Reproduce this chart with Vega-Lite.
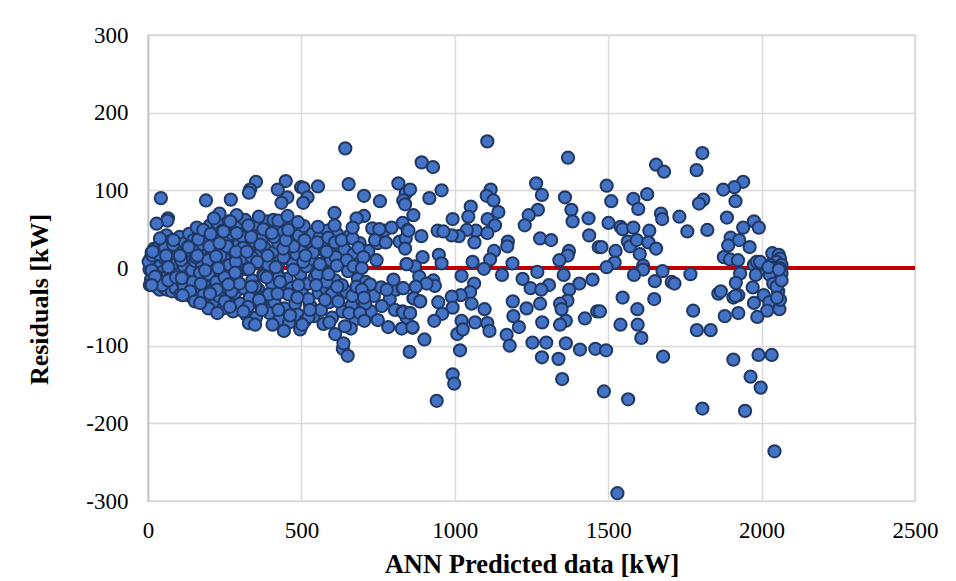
{"$schema":"https://vega.github.io/schema/vega-lite/v6.json","width":767,"height":466,"autosize":"none","padding":{"left":148,"top":35,"right":41,"bottom":80},"background":"white","view":{"stroke":"#d9d9d9","strokeWidth":1.5},
"datasets":{"zero":[{"x":0,"y":0},{"x":2500,"y":0}],
"pts":[{"x":5,"y":-2},{"x":8,"y":12},{"x":10,"y":-15},{"x":12,"y":20},{"x":15,"y":5},{"x":18,"y":-20},{"x":20,"y":25},{"x":22,"y":-8},{"x":25,"y":14},{"x":28,"y":-24},{"x":30,"y":8},{"x":32,"y":-13},{"x":35,"y":27},{"x":38,"y":-28},{"x":40,"y":3},{"x":42,"y":-18},{"x":45,"y":22},{"x":48,"y":-5},{"x":50,"y":32},{"x":52,"y":-25},{"x":55,"y":12},{"x":58,"y":-12},{"x":60,"y":42},{"x":62,"y":-28},{"x":65,"y":5},{"x":68,"y":24},{"x":70,"y":-20},{"x":72,"y":-3},{"x":75,"y":35},{"x":78,"y":-30},{"x":80,"y":12},{"x":84,"y":-14},{"x":88,"y":28},{"x":90,"y":-26},{"x":94,"y":6},{"x":97,"y":18},{"x":100,"y":-8},{"x":103,"y":40},{"x":106,"y":-34},{"x":110,"y":24},{"x":112,"y":-19},{"x":116,"y":3},{"x":120,"y":32},{"x":123,"y":-28},{"x":127,"y":14},{"x":130,"y":-10},{"x":134,"y":44},{"x":137,"y":-36},{"x":140,"y":22},{"x":144,"y":-3},{"x":148,"y":36},{"x":150,"y":-24},{"x":154,"y":9},{"x":158,"y":-40},{"x":160,"y":26},{"x":164,"y":-14},{"x":168,"y":45},{"x":172,"y":-32},{"x":176,"y":5},{"x":180,"y":30},{"x":183,"y":-22},{"x":187,"y":16},{"x":190,"y":-44},{"x":194,"y":38},{"x":198,"y":-8},{"x":202,"y":55},{"x":205,"y":-30},{"x":208,"y":20},{"x":212,"y":-48},{"x":215,"y":8},{"x":220,"y":42},{"x":223,"y":-18},{"x":226,"y":58},{"x":230,"y":-36},{"x":234,"y":26},{"x":238,"y":-4},{"x":242,"y":48},{"x":245,"y":-52},{"x":248,"y":13},{"x":252,"y":-24},{"x":256,"y":34},{"x":260,"y":-42},{"x":263,"y":60},{"x":266,"y":4},{"x":270,"y":-14},{"x":274,"y":44},{"x":277,"y":-56},{"x":280,"y":22},{"x":284,"y":-32},{"x":288,"y":52},{"x":292,"y":-6},{"x":296,"y":30},{"x":300,"y":-46},{"x":304,"y":12},{"x":308,"y":40},{"x":312,"y":-26},{"x":316,"y":62},{"x":320,"y":-60},{"x":324,"y":-2},{"x":328,"y":24},{"x":332,"y":-38},{"x":336,"y":48},{"x":340,"y":-16},{"x":344,"y":8},{"x":348,"y":34},{"x":352,"y":-64},{"x":356,"y":56},{"x":360,"y":-28},{"x":364,"y":18},{"x":368,"y":-48},{"x":372,"y":38},{"x":376,"y":-8},{"x":380,"y":26},{"x":384,"y":-36},{"x":388,"y":60},{"x":392,"y":4},{"x":396,"y":-58},{"x":400,"y":44},{"x":404,"y":-20},{"x":408,"y":20},{"x":412,"y":-44},{"x":416,"y":54},{"x":420,"y":-4},{"x":424,"y":32},{"x":428,"y":-66},{"x":432,"y":10},{"x":436,"y":-30},{"x":440,"y":46},{"x":444,"y":-52},{"x":448,"y":24},{"x":452,"y":-14},{"x":456,"y":58},{"x":460,"y":-70},{"x":464,"y":36},{"x":468,"y":-26},{"x":472,"y":6},{"x":476,"y":48},{"x":480,"y":-46},{"x":484,"y":18},{"x":488,"y":-60},{"x":492,"y":42},{"x":496,"y":-8},{"x":500,"y":28},{"x":504,"y":-34},{"x":508,"y":54},{"x":512,"y":-68},{"x":516,"y":2},{"x":520,"y":34},{"x":524,"y":-20},{"x":528,"y":-48},{"x":532,"y":12},{"x":536,"y":44},{"x":540,"y":-62},{"x":544,"y":-12},{"x":548,"y":24},{"x":556,"y":-32},{"x":560,"y":40},{"x":564,"y":-54},{"x":568,"y":6},{"x":572,"y":-72},{"x":576,"y":22},{"x":580,"y":-26},{"x":584,"y":48},{"x":590,"y":-44},{"x":596,"y":10},{"x":600,"y":-64},{"x":604,"y":30},{"x":610,"y":-16},{"x":616,"y":44},{"x":622,"y":-38},{"x":628,"y":6},{"x":634,"y":-56},{"x":640,"y":24},{"x":646,"y":-30},{"x":652,"y":-4},{"x":658,"y":42},{"x":664,"y":-48},{"x":670,"y":18},{"x":676,"y":-66},{"x":684,"y":-14},{"x":690,"y":32},{"x":698,"y":-42},{"x":710,"y":-18},{"x":718,"y":22},{"x":726,"y":-56},{"x":736,"y":-36},{"x":748,"y":32},{"x":760,"y":-25},{"x":770,"y":48},{"x":788,"y":-40},{"x":808,"y":-28},{"x":820,"y":34},{"x":2,"y":8},{"x":6,"y":-22},{"x":14,"y":16},{"x":26,"y":-10},{"x":34,"y":18},{"x":46,"y":-22},{"x":56,"y":26},{"x":66,"y":-16},{"x":82,"y":30},{"x":92,"y":-12},{"x":108,"y":10},{"x":118,"y":-24},{"x":132,"y":28},{"x":146,"y":-18},{"x":156,"y":14},{"x":170,"y":-6},{"x":182,"y":-34},{"x":196,"y":10},{"x":210,"y":32},{"x":224,"y":-28},{"x":236,"y":16},{"x":250,"y":-12},{"x":258,"y":28},{"x":272,"y":-30},{"x":286,"y":8},{"x":298,"y":-20},{"x":310,"y":26},{"x":326,"y":-50},{"x":338,"y":14},{"x":350,"y":-24},{"x":366,"y":30},{"x":378,"y":-10},{"x":394,"y":-34},{"x":410,"y":40},{"x":426,"y":-12},{"x":442,"y":14},{"x":458,"y":-34},{"x":474,"y":28},{"x":490,"y":-22},{"x":506,"y":8},{"x":522,"y":-40},{"x":538,"y":20},{"x":552,"y":-8},{"x":566,"y":32},{"x":582,"y":-18},{"x":598,"y":-34},{"x":612,"y":14},{"x":632,"y":-22},{"x":648,"y":10},{"x":666,"y":-36},{"x":688,"y":6},{"x":708,"y":-46},{"x":39,"y":38},{"x":83,"y":36},{"x":132,"y":27},{"x":164,"y":37},{"x":200,"y":28},{"x":233,"y":32},{"x":287,"y":21},{"x":322,"y":21},{"x":336,"y":40},{"x":441,"y":25},{"x":449,"y":36},{"x":510,"y":36},{"x":552,"y":33},{"x":588,"y":39},{"x":610,"y":33},{"x":631,"y":36},{"x":667,"y":38},{"x":686,"y":26},{"x":582,"y":21},{"x":15,"y":21},{"x":59,"y":16},{"x":104,"y":16},{"x":161,"y":16},{"x":222,"y":15},{"x":390,"y":16},{"x":513,"y":16},{"x":702,"y":14},{"x":745,"y":10},{"x":843,"y":5},{"x":356,"y":8},{"x":560,"y":5},{"x":615,"y":3},{"x":670,"y":2},{"x":697,"y":0},{"x":416,"y":1},{"x":474,"y":-2},{"x":229,"y":0},{"x":186,"y":-3},{"x":329,"y":-1},{"x":12,"y":-3},{"x":66,"y":1},{"x":23,"y":-11},{"x":110,"y":-13},{"x":284,"y":-6},{"x":387,"y":-12},{"x":588,"y":-8},{"x":800,"y":-15},{"x":778,"y":-28},{"x":724,"y":-21},{"x":262,"y":-21},{"x":172,"y":-20},{"x":430,"y":-18},{"x":617,"y":-24},{"x":548,"y":-22},{"x":680,"y":-24},{"x":697,"y":-28},{"x":830,"y":-26},{"x":12,"y":-22},{"x":137,"y":-30},{"x":338,"y":-24},{"x":422,"y":-33},{"x":487,"y":-38},{"x":202,"y":-33},{"x":113,"y":-35},{"x":251,"y":-43},{"x":362,"y":-41},{"x":577,"y":-41},{"x":620,"y":-43},{"x":704,"y":-38},{"x":865,"y":-39},{"x":887,"y":-43},{"x":425,"y":-54},{"x":267,"y":-50},{"x":197,"y":-52},{"x":153,"y":-43},{"x":170,"y":-45},{"x":226,"y":-58},{"x":311,"y":-56},{"x":371,"y":-54},{"x":463,"y":-61},{"x":523,"y":-63},{"x":528,"y":-54},{"x":655,"y":-58},{"x":691,"y":-58},{"x":762,"y":-49},{"x":805,"y":-54},{"x":830,"y":-56},{"x":854,"y":-58},{"x":843,"y":-64},{"x":749,"y":-67},{"x":705,"y":-68},{"x":591,"y":-70},{"x":329,"y":-71},{"x":349,"y":-73},{"x":406,"y":-73},{"x":443,"y":-81},{"x":496,"y":-79},{"x":503,"y":-73},{"x":783,"y":-76},{"x":827,"y":-78},{"x":862,"y":-77},{"x":610,"y":-85},{"x":661,"y":-78},{"x":642,"y":-75},{"x":635,"y":-104},{"x":651,"y":-113},{"x":637,"y":-97},{"x":643,"y":154},{"x":42,"y":90},{"x":189,"y":87},{"x":270,"y":88},{"x":352,"y":111},{"x":333,"y":101},{"x":329,"y":97},{"x":449,"y":112},{"x":423,"y":101},{"x":454,"y":91},{"x":435,"y":84},{"x":499,"y":104},{"x":507,"y":103},{"x":554,"y":105},{"x":520,"y":91},{"x":506,"y":84},{"x":654,"y":108},{"x":704,"y":93},{"x":756,"y":86},{"x":816,"y":109},{"x":840,"y":96},{"x":832,"y":87},{"x":838,"y":82},{"x":608,"y":71},{"x":704,"y":67},{"x":680,"y":64},{"x":233,"y":70},{"x":215,"y":64},{"x":289,"y":68},{"x":268,"y":60},{"x":361,"y":66},{"x":65,"y":64},{"x":63,"y":61},{"x":28,"y":57},{"x":159,"y":52},{"x":180,"y":49},{"x":204,"y":44},{"x":327,"y":55},{"x":409,"y":62},{"x":425,"y":61},{"x":455,"y":67},{"x":489,"y":59},{"x":376,"y":50},{"x":404,"y":45},{"x":457,"y":49},{"x":289,"y":45},{"x":246,"y":47},{"x":554,"y":53},{"x":608,"y":55},{"x":667,"y":52},{"x":731,"y":51},{"x":754,"y":50},{"x":794,"y":52},{"x":830,"y":58},{"x":846,"y":49},{"x":740,"y":36},{"x":775,"y":33},{"x":840,"y":38},{"x":838,"y":25},{"x":1106,"y":163},{"x":1369,"y":142},{"x":892,"y":136},{"x":929,"y":130},{"x":1265,"y":109},{"x":1284,"y":94},{"x":1359,"y":91},{"x":1117,"y":101},{"x":1104,"y":93},{"x":1126,"y":87},{"x":1052,"y":79},{"x":957,"y":100},{"x":917,"y":90},{"x":854,"y":101},{"x":1271,"y":75},{"x":1241,"y":68},{"x":1228,"y":55},{"x":1380,"y":75},{"x":1384,"y":60},{"x":1436,"y":64},{"x":1438,"y":42},{"x":1142,"y":72},{"x":1107,"y":63},{"x":1044,"y":66},{"x":993,"y":63},{"x":1131,"y":55},{"x":1069,"y":48},{"x":1039,"y":49},{"x":1013,"y":41},{"x":990,"y":42},{"x":1106,"y":45},{"x":944,"y":48},{"x":963,"y":47},{"x":865,"y":68},{"x":849,"y":48},{"x":891,"y":41},{"x":1064,"y":33},{"x":1173,"y":34},{"x":1171,"y":28},{"x":1278,"y":38},{"x":1314,"y":36},{"x":1469,"y":27},{"x":1372,"y":22},{"x":1368,"y":16},{"x":1341,"y":10},{"x":1128,"y":22},{"x":1115,"y":11},{"x":1058,"y":8},{"x":1188,"y":6},{"x":1095,"y":-1},{"x":948,"y":17},{"x":957,"y":6},{"x":895,"y":14},{"x":870,"y":2},{"x":843,"y":5},{"x":1269,"y":-5},{"x":1355,"y":-9},{"x":1154,"y":-9},{"x":1022,"y":-10},{"x":884,"y":-11},{"x":1221,"y":-14},{"x":1247,"y":-26},{"x":1307,"y":-22},{"x":1282,"y":-28},{"x":1406,"y":-20},{"x":1449,"y":-15},{"x":1063,"y":-20},{"x":930,"y":-16},{"x":935,"y":-23},{"x":908,"y":-20},{"x":873,"y":-24},{"x":832,"y":-26},{"x":1373,"y":-28},{"x":1050,"y":-31},{"x":1019,"y":-35},{"x":990,"y":-37},{"x":867,"y":-39},{"x":887,"y":-43},{"x":1189,"y":-43},{"x":1367,"y":-42},{"x":1343,"y":-46},{"x":1278,"y":-46},{"x":1055,"y":-46},{"x":946,"y":-44},{"x":1097,"y":-53},{"x":993,"y":-51},{"x":1234,"y":-52},{"x":1348,"y":-53},{"x":1464,"y":-56},{"x":832,"y":-57},{"x":854,"y":-58},{"x":959,"y":-59},{"x":1191,"y":-62},{"x":1424,"y":-65},{"x":1285,"y":-70},{"x":1362,"y":-68},{"x":1343,"y":-73},{"x":933,"y":-68},{"x":1022,"y":-68},{"x":1066,"y":-70},{"x":1106,"y":-71},{"x":1113,"y":-81},{"x":1209,"y":-76},{"x":862,"y":-76},{"x":1008,"y":-85},{"x":1026,"y":-79},{"x":1169,"y":-86},{"x":1179,"y":-100},{"x":901,"y":-92},{"x":1253,"y":-96},{"x":1298,"y":-96},{"x":1362,"y":-97},{"x":1408,"y":-105},{"x":1458,"y":-104},{"x":853,"y":-108},{"x":1017,"y":-106},{"x":1284,"y":-115},{"x":1338,"y":-117},{"x":993,"y":-137},{"x":998,"y":-149},{"x":1350,"y":-143},{"x":941,"y":-171},{"x":1807,"y":148},{"x":1788,"y":126},{"x":1656,"y":133},{"x":1682,"y":124},{"x":1495,"y":106},{"x":1627,"y":95},{"x":1582,"y":89},{"x":1598,"y":76},{"x":1510,"y":86},{"x":1810,"y":88},{"x":1796,"y":83},{"x":1940,"y":111},{"x":1911,"y":104},{"x":1875,"y":101},{"x":1915,"y":86},{"x":1672,"y":70},{"x":1676,"y":63},{"x":1732,"y":66},{"x":1887,"y":65},{"x":1975,"y":60},{"x":1991,"y":52},{"x":1940,"y":52},{"x":1823,"y":49},{"x":1758,"y":47},{"x":1501,"y":58},{"x":1540,"y":53},{"x":1547,"y":50},{"x":1582,"y":52},{"x":1634,"y":48},{"x":1564,"y":34},{"x":1571,"y":28},{"x":1593,"y":36},{"x":1631,"y":33},{"x":1656,"y":25},{"x":1603,"y":18},{"x":1524,"y":22},{"x":1478,"y":27},{"x":1521,"y":7},{"x":1495,"y":1},{"x":1614,"y":3},{"x":1614,"y":-2},{"x":1584,"y":-9},{"x":1652,"y":-17},{"x":1677,"y":-4},{"x":1707,"y":-18},{"x":1716,"y":-20},{"x":1768,"y":-8},{"x":1899,"y":39},{"x":1927,"y":36},{"x":1891,"y":29},{"x":1961,"y":27},{"x":1877,"y":14},{"x":1897,"y":11},{"x":1923,"y":10},{"x":1975,"y":4},{"x":1981,"y":-9},{"x":1930,"y":-7},{"x":1916,"y":-19},{"x":1859,"y":-33},{"x":1867,"y":-30},{"x":1908,"y":-38},{"x":1924,"y":-35},{"x":1915,"y":-36},{"x":1971,"y":-25},{"x":2007,"y":-35},{"x":1975,"y":-45},{"x":2025,"y":-44},{"x":2018,"y":-55},{"x":2058,"y":-53},{"x":1986,"y":-63},{"x":1924,"y":-58},{"x":1880,"y":-62},{"x":1777,"y":-55},{"x":1547,"y":-38},{"x":1650,"y":-40},{"x":1595,"y":-53},{"x":1473,"y":-56},{"x":1540,"y":-73},{"x":1596,"y":-73},{"x":1608,"y":-90},{"x":1789,"y":-80},{"x":1834,"y":-80},{"x":1679,"y":-114},{"x":1493,"y":-106},{"x":1908,"y":-118},{"x":1990,"y":-112},{"x":2033,"y":-112},{"x":1964,"y":-140},{"x":1997,"y":-154},{"x":1486,"y":-159},{"x":1565,"y":-169},{"x":1807,"y":-181},{"x":1946,"y":-184},{"x":2042,"y":-236},{"x":1530,"y":-290},{"x":2035,"y":19},{"x":2056,"y":17},{"x":2060,"y":12},{"x":2049,"y":8},{"x":2027,"y":4},{"x":2065,"y":4},{"x":2038,"y":0},{"x":2060,"y":0},{"x":2016,"y":-3},{"x":2043,"y":-7},{"x":2065,"y":-7},{"x":2027,"y":-9},{"x":2060,"y":-15},{"x":2038,"y":-20},{"x":2054,"y":-30},{"x":2060,"y":-41},{"x":2049,"y":-24},{"x":2065,"y":-16},{"x":1984,"y":8},{"x":1995,"y":8},{"x":2022,"y":1},{"x":2050,"y":-38},{"x":2056,"y":-2}]},
"layer":[
{"data":{"name":"zero"},"mark":{"type":"line","color":"#c00000","strokeWidth":4},"encoding":{"x":{"field":"x","type":"quantitative","scale":{"domain":[0,2500],"nice":false},"axis":{"values":[0,500,1000,1500,2000,2500],"labelExpr":"datum.value + ''","title":"ANN Predicted data [kW]","grid":true,"gridColor":"#d9d9d9","gridWidth":1.5,"domain":false,"ticks":false,"labelFont":"Liberation Serif","labelFontSize":23,"labelColor":"black","labelPadding":18,"labelFlush":false,"titleFont":"Liberation Serif","titleFontSize":26.5,"titleFontWeight":"bold","titleColor":"black","titleBaseline":"alphabetic","titleY":71}},"y":{"field":"y","type":"quantitative","scale":{"domain":[-300,300],"nice":false},"axis":{"values":[-300,-200,-100,0,100,200,300],"labelExpr":"datum.value + ''","title":"Residuals [kW]","grid":true,"gridColor":"#d9d9d9","gridWidth":1.5,"domain":true,"domainColor":"#bfbfbf","domainWidth":1.5,"ticks":false,"labelFont":"Liberation Serif","labelFontSize":23,"labelColor":"black","labelPadding":20,"titleFont":"Liberation Serif","titleFontSize":26,"titleFontWeight":"bold","titleColor":"black","titleBaseline":"alphabetic","titleX":-101,"titleY":264}}}},
{"data":{"name":"pts"},"mark":{"type":"point","filled":true,"fill":"#4472c4","fillOpacity":1,"stroke":"#203864","strokeWidth":2,"strokeOpacity":1,"size":150},"encoding":{"x":{"field":"x","type":"quantitative"},"y":{"field":"y","type":"quantitative"}}}
]}
